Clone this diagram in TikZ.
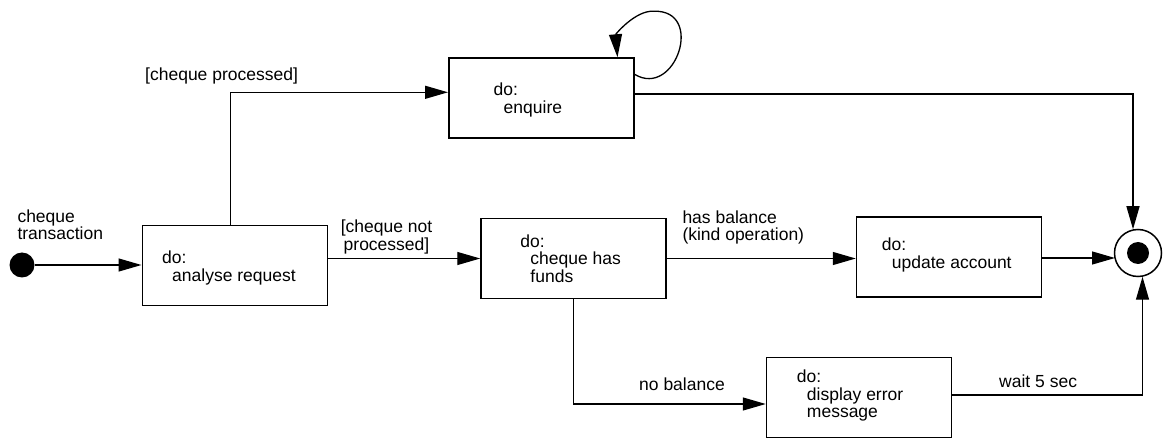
\documentclass[tikz,border=0pt]{standalone}
\usepackage{fontspec}
\setmainfont{Liberation Sans}
\usetikzlibrary{arrows.meta,calc}
\newcommand{\ind}{\hspace*{10pt}}
\begin{document}
\begin{tikzpicture}[x=1pt,y=-1pt,
  every node/.style={font=\fontsize{17.5}{17.5}\selectfont, inner sep=0pt},
  statebox/.style={draw, line width=1.5pt, rectangle, minimum width=185pt, minimum height=80pt},
  boxtext/.style={anchor=north west, align=left},
  lbl/.style={anchor=base west},
  flow/.style={line width=1.3pt, -{Triangle[length=23pt,width=13pt]}}]
\useasboundingbox (0,0) rectangle (1167,438);

% states
\node[statebox] (ar)   at (234.75,265.75) {};
\node[statebox] (enq)  at (541.25,98) {};
\node[statebox] (fund) at (573.5,258.5) {};
\node[statebox] (upd)  at (949,257) {};
\node[statebox] (err)  at (859,397.5) {};

% state activities
\node[boxtext] (art)   at ($(ar.north west)+(20.5,26)$)   {do:\\\ind analyse request};
\node[boxtext] (enqt)  at ($(enq.north west)+(45.5,25.5)$) {do:\\\ind enquire};
\node[boxtext] (fundt) at ($(fund.north west)+(40,16.5)$) {do:\\\ind cheque has\\\ind funds};
\node[boxtext] (updt)  at ($(upd.north west)+(26,21.5)$)  {do:\\\ind update account};
\node[boxtext] (errt)  at ($(err.north west)+(31,13)$)    {do:\\\ind display error\\\ind message};

% initial and final states
\node[circle, fill, minimum size=25pt] (init) at (22,265) {};
\node[circle, draw, line width=1.5pt, minimum size=47pt] (fin) at (1138,253) {};
\node[circle, fill, minimum size=22pt] (findot) at (fin) {};

% transitions
\draw[flow] (init.east) -- (ar.west |- init.east);
\draw[flow] ($(ar.north west)+(89,0)$) |- ($(enq.west)+(0,-5.7)$);
\draw[flow] (ar.east |- fund.west) -- (fund.west);
\draw[flow] (fund.east) -- (upd.west |- fund.east);
\draw[flow] ($(upd.east)+(0,1)$) -- ($(fin.center)+(-23,5)$);
\draw[flow] ($(enq.east)+(0,-4)$) -| ($(fin.north)+(-5,0.5)$);
\draw[flow] (fund.south) |- ($(err.west)+(0,6.5)$);
\draw[flow] ($(err.east)+(0,-2.5)$) -| ($(fin.south)+(4.5,-0.5)$);

% self transition on enquire
\coordinate (ne) at (enq.north east);
\draw[flow] ($(ne)+(0,17)$) .. controls ($(ne)+(41,42)$) and ($(ne)+(71,-48)$) .. ($(ne)+(19,-46)$)
  .. controls ($(ne)+(1,-47)$) and ($(ne)+(-19,-23)$) .. ($(ne)+(-17,0)$);

% transition labels
\node[boxtext] (lstart) at (17.3,209.5) {cheque\\transaction};
\node[lbl] (lproc) at (145,80.7) {[cheque processed]};
\node[anchor=north, align=center] (lnot) at (386.5,220) {[cheque not\\processed]};
\node[boxtext] (lbal) at (682.3,210.2) {has balance\\(kind operation)};
\node[lbl] (lnob) at (639,390.7) {no balance};
\node[lbl] (lwait) at (999,387.7) {wait 5 sec};
\end{tikzpicture}
\end{document}
